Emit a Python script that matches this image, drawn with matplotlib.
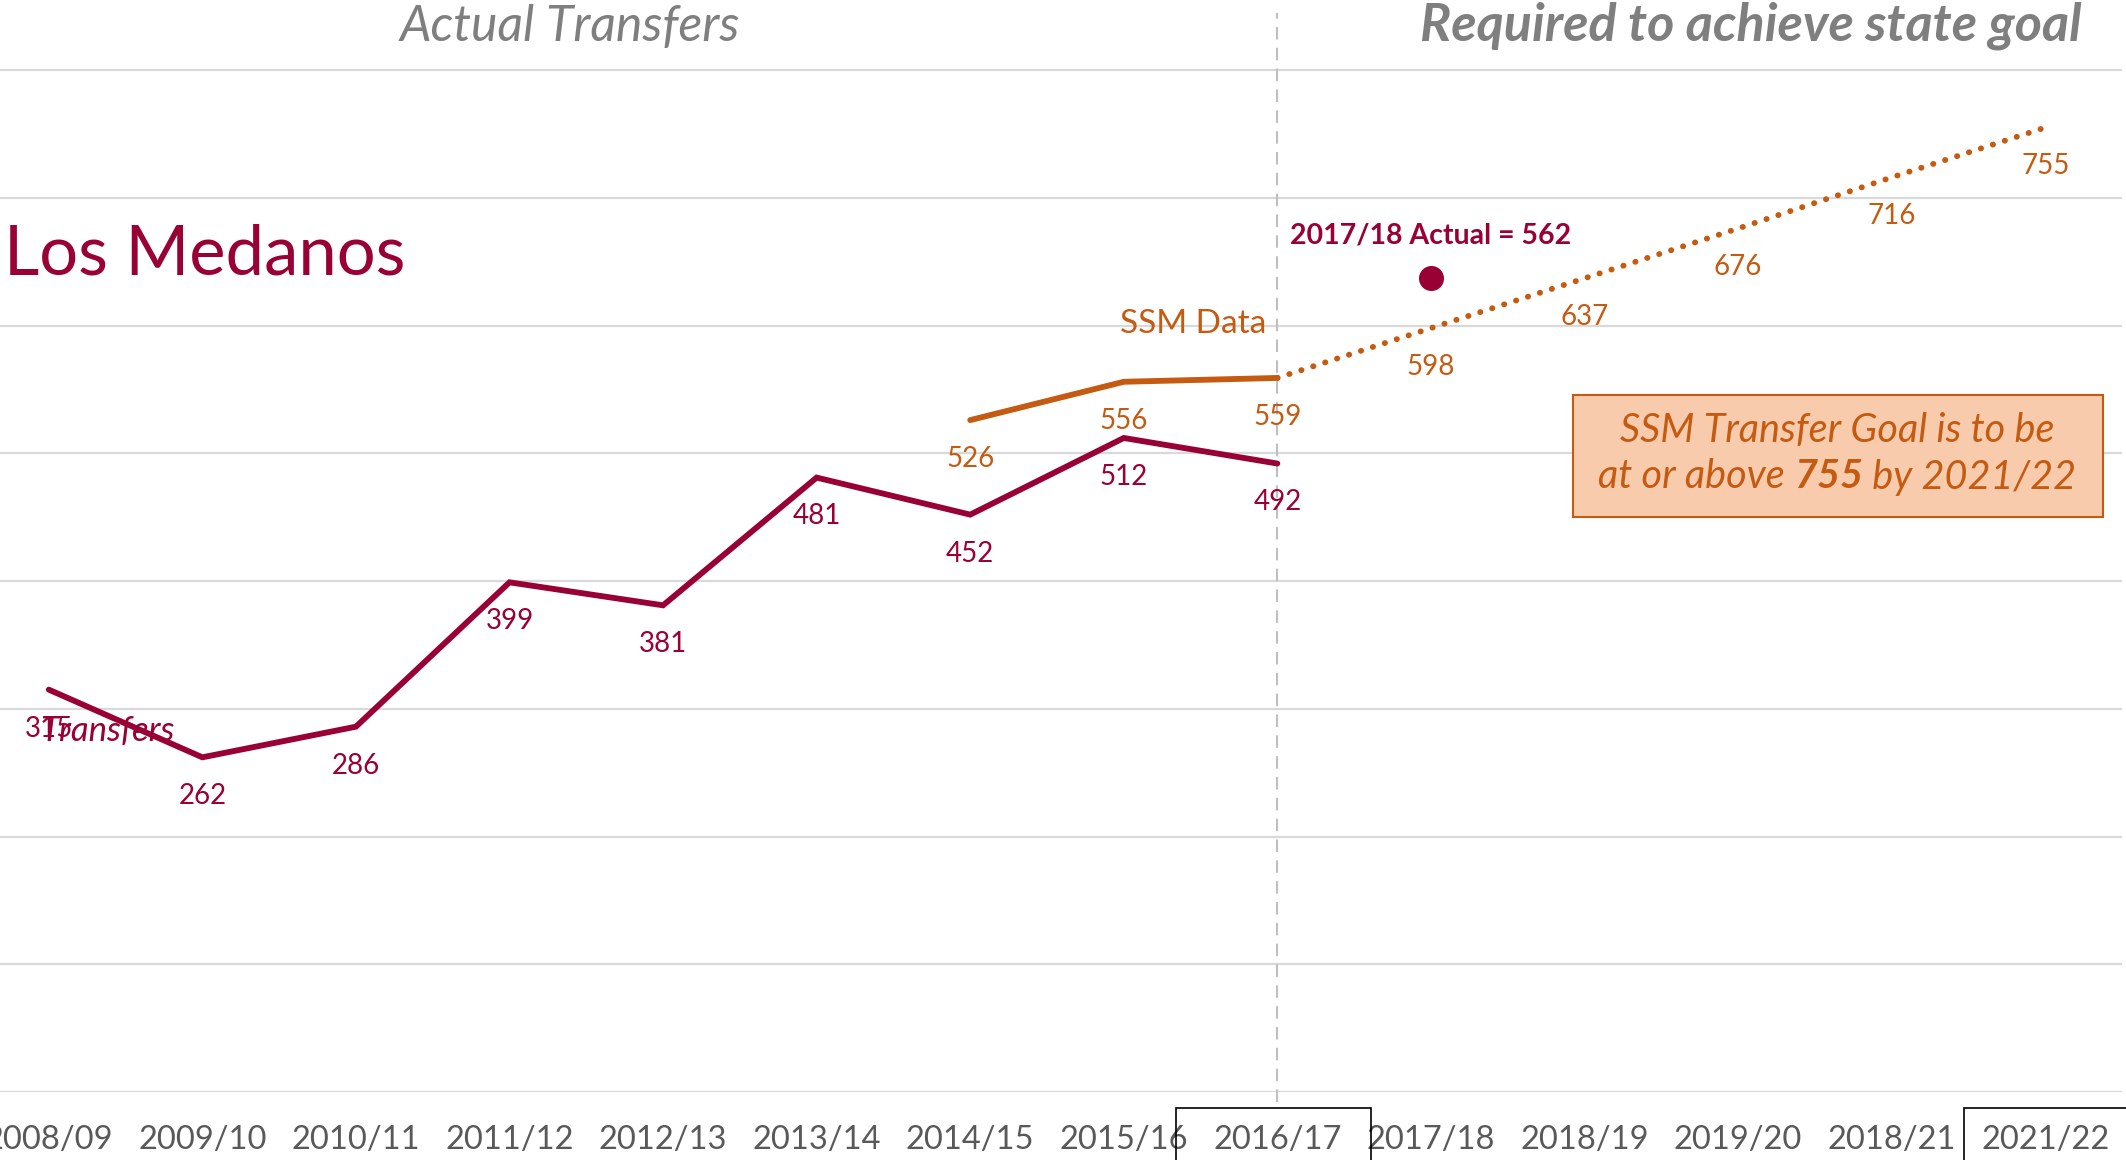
import matplotlib
matplotlib.use("Agg")
import matplotlib.pyplot as plt
from matplotlib.patches import Rectangle
from matplotlib.transforms import blended_transform_factory

plt.rcParams['font.family'] = ['Lato', 'DejaVu Sans']

# ---- data ----
years = ["2008/09", "2009/10", "2010/11", "2011/12", "2012/13", "2013/14", "2014/15",
         "2015/16", "2016/17", "2017/18", "2018/19", "2019/20", "2018/21", "2021/22"]
transfers = [315, 262, 286, 399, 381, 481, 452, 512, 492]
ssm_years = ["2014/15", "2015/16", "2016/17"]
ssm_values = [526, 556, 559]
goal_years = ["2016/17", "2017/18", "2018/19", "2019/20", "2018/21", "2021/22"]
goal_values = [559, 598, 637, 676, 716, 755]
actual_year = "2017/18"
actual_label_value = 562
actual_marker_level = 637  # vertical position of the marker as drawn

CRIMSON = "#990033"
ORANGE = "#C55A11"
GRAY = "#7F7F7F"

W, H = 2126, 1160
fig = plt.figure(figsize=(W / 100, H / 100), dpi=100)
ax = fig.add_axes([-28 / W, 68 / H, 2150 / W, 1073 / H])
ax.set_xlim(-0.5, len(years) - 0.5)
ax.set_ylim(0, 840)
for s in ax.spines.values():
    s.set_visible(False)

ax.set_yticks(range(0, 900, 100))
ax.set_yticklabels([])
ax.yaxis.grid(True, color="#D9D9D9", linewidth=1.6)
ax.set_axisbelow(True)
ax.tick_params(axis="y", length=0)
ax.set_xticks(range(len(years)))
ax.set_xticklabels(years, fontsize=23.5, color="#595959")
ax.tick_params(axis="x", length=0, pad=24)

idx = {y: i for i, y in enumerate(years)}

# vertical dashed separator
xsep = idx["2016/17"]
ax.plot([xsep, xsep], [-8, 845], color="#BFBFBF", lw=1.5, ls=(0, (6, 4)), clip_on=False, zorder=1)

# series
tx = list(range(len(transfers)))
ax.plot(tx, transfers, color=CRIMSON, lw=4.2, solid_capstyle="round", solid_joinstyle="miter", zorder=3)
sx = [idx[y] for y in ssm_years]
ax.plot(sx, ssm_values, color=ORANGE, lw=4.2, solid_capstyle="round", zorder=3)
gx = [idx[y] for y in goal_years]
ax.plot(gx, goal_values, color=ORANGE, lw=4.2, ls=(0, (0.05, 2.1)), dash_capstyle="round", zorder=3)

def lab(x, y, txt, color):
    ax.annotate(txt, (x, y), xytext=(0, -28), textcoords="offset points",
                ha="center", va="center", fontsize=20, color=color, zorder=4)

for x, v in zip(tx, transfers):
    lab(x, v, str(v), CRIMSON)
for x, v in zip(sx, ssm_values):
    lab(x, v, str(v), ORANGE)
for x, v in zip(gx[1:], goal_values[1:]):
    lab(x, v, str(v), ORANGE)

# actual marker
ax.plot([idx[actual_year]], [actual_marker_level], "o", color=CRIMSON, markersize=17, zorder=5)
ax.annotate(f"{actual_year} Actual = {actual_label_value}", (idx[actual_year], actual_marker_level),
            xytext=(0, 31), textcoords="offset points", ha="center", va="center",
            fontsize=20.5, fontweight="bold", color=CRIMSON)

# series names
ax.text(7.45, 601, "SSM Data", color=ORANGE, fontsize=24, ha="center", va="center")
ax.text(0.38, 283, "Transfers", color=CRIMSON, fontsize=25, style="italic", ha="center", va="center")

# titles
fig.text(4 / W, 1 - 255 / H, "Los Medanos", color=CRIMSON, fontsize=49.5, ha="left", va="center")
fig.text(570 / W, 1 - 41 / H, "Actual Transfers", color=GRAY, fontsize=36, style="italic",
         ha="center", va="baseline")
fig.text(2082 / W, 1 - 41 / H, "Required to achieve state goal", color=GRAY, fontsize=37.5,
         style="italic", fontweight="bold", ha="right", va="baseline")

# goal box
fig.patches.append(Rectangle((1573 / W, 1 - 517 / H), 530 / W, 122 / H, transform=fig.transFigure,
                             facecolor="#F8CBAD", edgecolor=ORANGE, lw=1.5, zorder=5))
cx = 1837 / W
BOXFS = 28.5
fig.text(cx, 1 - 431 / H, "SSM Transfer Goal is to be", color=ORANGE, fontsize=BOXFS, style="italic",
         ha="center", va="center", zorder=6)
parts = [("at or above ", "normal"), ("755", "bold"), (" by 2021/22", "normal")]
fig.canvas.draw()
r = fig.canvas.get_renderer()
tmp = []
for t, w in parts:
    tt = fig.text(0, 0, t, fontsize=BOXFS, style="italic", fontweight=w)
    tmp.append(tt)
widths = [tt.get_window_extent(r).width for tt in tmp]
for tt in tmp:
    tt.remove()
total = sum(widths)
xpix = cx * W - total / 2
for (t, w), wd in zip(parts, widths):
    fig.text(xpix / W, 1 - 477 / H, t, color=ORANGE, fontsize=BOXFS, style="italic", fontweight=w,
             ha="left", va="center", zorder=6)
    xpix += wd

# boxes around tick labels
bt = blended_transform_factory(ax.transData, fig.transFigure)
for x0, x1 in [(7.34, 8.61), (12.47, 13.6)]:
    ax.add_patch(Rectangle((x0, -0.02), x1 - x0, 0.02 + 52 / H, transform=bt, fill=False,
                           edgecolor="black", lw=1.2, clip_on=False))

fig.savefig("out.png", dpi=100)
